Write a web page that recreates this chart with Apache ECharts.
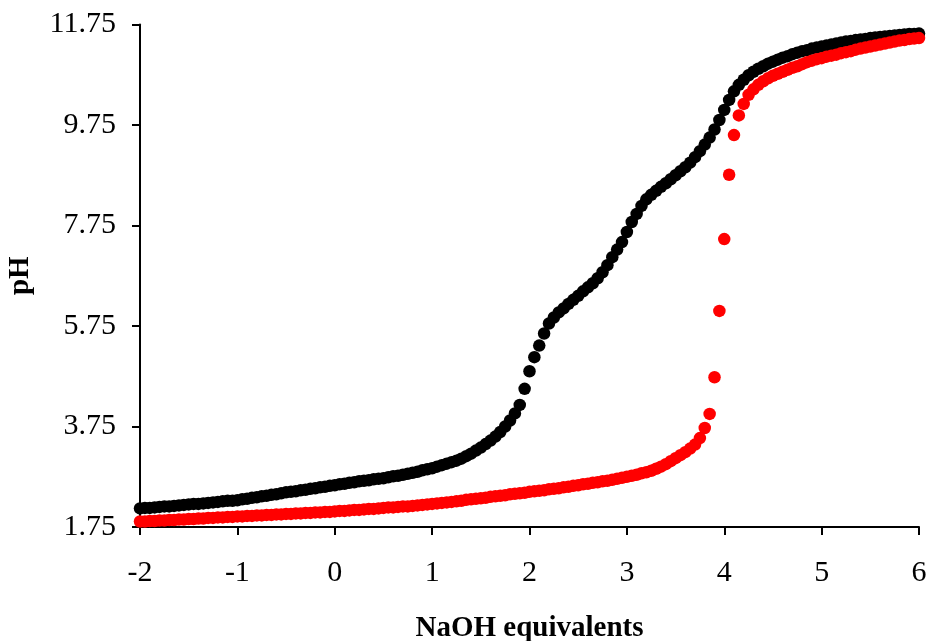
<!DOCTYPE html>
<html>
<head>
<meta charset="utf-8">
<script src="https://cdn.jsdelivr.net/npm/echarts@6/dist/echarts.min.js"></script>
<style>html,body{margin:0;padding:0;background:#fff}#c{width:931px;height:641px}</style>
</head>
<body>
<div id="c"></div>
<script>
// NaOH equivalents (x) for each measured point
var equivalents = [-2.00,-1.95,-1.90,-1.85,-1.80,-1.75,-1.70,-1.65,-1.60,-1.55,-1.50,-1.45,-1.40,-1.35,-1.30,-1.25,-1.20,-1.15,-1.10,-1.05,
-1.00,-0.95,-0.90,-0.85,-0.80,-0.75,-0.70,-0.65,-0.60,-0.55,-0.50,-0.45,-0.40,-0.35,-0.30,-0.25,-0.20,-0.15,-0.10,-0.05,
0.00,0.05,0.10,0.15,0.20,0.25,0.30,0.35,0.40,0.45,0.50,0.55,0.60,0.65,0.70,0.75,0.80,0.85,0.90,0.95,
1.00,1.05,1.10,1.15,1.20,1.25,1.30,1.35,1.40,1.45,1.50,1.55,1.60,1.65,1.70,1.75,1.80,1.85,1.90,1.95,
2.00,2.05,2.10,2.15,2.20,2.25,2.30,2.35,2.40,2.45,2.50,2.55,2.60,2.65,2.70,2.75,2.80,2.85,2.90,2.95,
3.00,3.05,3.10,3.15,3.20,3.25,3.30,3.35,3.40,3.45,3.50,3.55,3.60,3.65,3.70,3.75,3.80,3.85,3.90,3.95,
4.00,4.05,4.10,4.15,4.20,4.25,4.30,4.35,4.40,4.45,4.50,4.55,4.60,4.65,4.70,4.75,4.80,4.85,4.90,4.95,
5.00,5.05,5.10,5.15,5.20,5.25,5.30,5.35,5.40,5.45,5.50,5.55,5.60,5.65,5.70,5.75,5.80,5.85,5.90,5.95,6.00];

// pH, black series
var phBlack = [2.12,2.13,2.13,2.14,2.15,2.16,2.16,2.17,2.18,2.19,2.20,2.21,2.21,2.22,2.23,2.24,2.25,2.26,2.27,2.27,
2.28,2.30,2.31,2.33,2.34,2.36,2.37,2.39,2.40,2.42,2.44,2.45,2.46,2.48,2.49,2.51,2.52,2.54,2.55,2.57,
2.58,2.60,2.61,2.63,2.64,2.66,2.67,2.68,2.70,2.71,2.72,2.74,2.76,2.77,2.79,2.81,2.83,2.85,2.88,2.90,
2.92,2.95,2.98,3.01,3.04,3.07,3.11,3.16,3.21,3.27,3.33,3.40,3.47,3.55,3.64,3.75,3.87,4.01,4.18,4.50,
4.85,5.13,5.36,5.60,5.80,5.92,6.02,6.10,6.19,6.27,6.35,6.44,6.52,6.60,6.70,6.82,6.96,7.12,7.27,7.42,
7.62,7.82,7.98,8.14,8.27,8.36,8.44,8.52,8.59,8.67,8.75,8.83,8.91,9.00,9.11,9.23,9.36,9.50,9.66,9.85,
10.05,10.25,10.42,10.55,10.65,10.74,10.81,10.87,10.92,10.97,11.01,11.05,11.09,11.12,11.16,11.19,11.22,11.24,11.27,11.29,
11.31,11.33,11.35,11.37,11.39,11.41,11.42,11.44,11.45,11.46,11.48,11.49,11.50,11.51,11.52,11.53,11.54,11.55,11.56,11.56,11.57];

// pH, red series
var phRed = [1.86,1.86,1.87,1.87,1.88,1.88,1.89,1.89,1.90,1.90,1.91,1.91,1.92,1.92,1.93,1.93,1.94,1.94,1.95,1.95,
1.96,1.96,1.97,1.97,1.98,1.98,1.99,1.99,2.00,2.00,2.01,2.01,2.02,2.02,2.03,2.03,2.04,2.04,2.05,2.05,
2.06,2.07,2.07,2.08,2.09,2.09,2.10,2.11,2.11,2.12,2.13,2.14,2.14,2.15,2.16,2.16,2.17,2.18,2.19,2.20,
2.21,2.22,2.23,2.24,2.25,2.26,2.27,2.29,2.30,2.31,2.32,2.33,2.35,2.36,2.37,2.38,2.40,2.41,2.42,2.43,
2.45,2.46,2.47,2.48,2.50,2.51,2.52,2.54,2.55,2.57,2.58,2.60,2.61,2.63,2.64,2.66,2.67,2.69,2.71,2.73,
2.75,2.77,2.79,2.82,2.84,2.87,2.91,2.95,3.00,3.06,3.12,3.18,3.24,3.31,3.39,3.52,3.72,4.00,4.73,6.05,
7.48,8.76,9.55,9.94,10.17,10.35,10.46,10.55,10.62,10.68,10.73,10.77,10.81,10.85,10.89,10.92,10.96,11.00,11.03,11.06,
11.08,11.11,11.13,11.15,11.18,11.20,11.22,11.25,11.27,11.29,11.31,11.33,11.35,11.37,11.39,11.41,11.43,11.44,11.46,11.47,11.48];

var yTicks = [1.75, 3.75, 5.75, 7.75, 9.75, 11.75];
var xTicks = [-2, -1, 0, 1, 2, 3, 4, 5, 6];

function pairs(xs, ys) {
  var out = [];
  for (var i = 0; i < xs.length; i++) out.push([xs[i], ys[i]]);
  return out;
}

var font = '"Liberation Serif", "Times New Roman", serif';
var chart = echarts.init(document.getElementById('c'), null, {renderer: 'canvas'});
chart.setOption({
  animation: false,
  backgroundColor: '#ffffff',
  grid: {left: 140, right: 12, top: 24.5, bottom: 114, containLabel: false, outerBoundsMode: 'none'},
  xAxis: {
    type: 'value', min: -2, max: 6, interval: 1,
    name: 'NaOH equivalents', nameLocation: 'middle', nameGap: 87,
    nameTextStyle: {fontFamily: font, fontSize: 29, fontWeight: 'bold', color: '#000'},
    axisLine: {show: true, onZero: false, lineStyle: {color: '#000', width: 2}},
    axisTick: {show: true, inside: false, length: 8, lineStyle: {color: '#000', width: 2}, customValues: xTicks},
    axisLabel: {fontFamily: font, fontSize: 30, color: '#000', margin: 31, customValues: xTicks},
    splitLine: {show: false}
  },
  yAxis: {
    type: 'value', min: 1.75, max: 11.75, interval: 2,
    name: 'pH', nameLocation: 'middle', nameGap: 105, nameRotate: 90,
    nameTextStyle: {fontFamily: font, fontSize: 29, fontWeight: 'bold', color: '#000'},
    axisLine: {show: true, onZero: false, lineStyle: {color: '#000', width: 2}},
    axisTick: {show: true, inside: false, length: 8, lineStyle: {color: '#000', width: 2}, customValues: yTicks},
    axisLabel: {fontFamily: font, fontSize: 30, color: '#000', margin: 24, customValues: yTicks,
      formatter: function (v) { return v.toFixed(2); }},
    splitLine: {show: false}
  },
  series: [
    {type: 'scatter', name: 'black', data: pairs(equivalents, phBlack), symbol: 'circle', symbolSize: 12.5,
     itemStyle: {color: '#000000', opacity: 1}, z: 2},
    {type: 'scatter', name: 'red', data: pairs(equivalents, phRed), symbol: 'circle', symbolSize: 12.5,
     itemStyle: {color: '#ff0000', opacity: 1}, z: 3}
  ]
});
</script>
</body>
</html>
